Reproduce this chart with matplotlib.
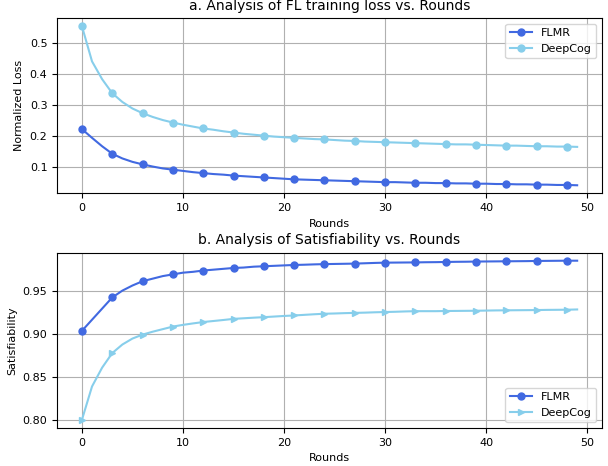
import matplotlib
matplotlib.use('Agg')
import matplotlib.pyplot as plt

rounds = list(range(50))

# normalized loss per round
flmr_loss = [0.223, 0.195, 0.168, 0.144, 0.129, 0.118, 0.110, 0.103, 0.097, 0.093,
             0.089, 0.085, 0.082, 0.079, 0.077, 0.074, 0.072, 0.070, 0.068, 0.066,
             0.064, 0.062, 0.061, 0.060, 0.059, 0.058, 0.057, 0.056, 0.055, 0.054,
             0.053, 0.053, 0.052, 0.051, 0.051, 0.050, 0.050, 0.049, 0.049, 0.048,
             0.048, 0.047, 0.047, 0.046, 0.046, 0.045, 0.045, 0.044, 0.044, 0.043]
deepcog_loss = [0.553, 0.440, 0.383, 0.338, 0.310, 0.289, 0.274, 0.262, 0.252, 0.244,
                0.237, 0.231, 0.225, 0.221, 0.216, 0.212, 0.208, 0.205, 0.202, 0.199,
                0.197, 0.195, 0.193, 0.191, 0.190, 0.188, 0.186, 0.185, 0.183, 0.182,
                0.181, 0.180, 0.179, 0.178, 0.177, 0.176, 0.175, 0.174, 0.174, 0.173,
                0.172, 0.171, 0.170, 0.170, 0.169, 0.168, 0.168, 0.167, 0.167, 0.166]

# satisfiability per round
flmr_sat = [0.904, 0.917, 0.930, 0.943, 0.951, 0.957, 0.962, 0.965, 0.968, 0.970,
            0.972, 0.973, 0.9745, 0.9755, 0.9765, 0.9775, 0.978, 0.979, 0.9795, 0.980,
            0.9805, 0.981, 0.9813, 0.9817, 0.982, 0.9822, 0.9824, 0.9826, 0.983, 0.9834,
            0.9837, 0.9838, 0.9839, 0.984, 0.9842, 0.9843, 0.9845, 0.9847, 0.9848, 0.985,
            0.9851, 0.9852, 0.9853, 0.9854, 0.9855, 0.9857, 0.9858, 0.9859, 0.986, 0.986]
deepcog_sat = [0.800, 0.839, 0.861, 0.878, 0.888, 0.895, 0.8996, 0.903, 0.906, 0.909,
               0.911, 0.9127, 0.9143, 0.9155, 0.9167, 0.918, 0.9187, 0.9194, 0.920, 0.9207,
               0.9214, 0.922, 0.9227, 0.9234, 0.924, 0.9243, 0.9247, 0.925, 0.9253, 0.9257,
               0.926, 0.9263, 0.9267, 0.927, 0.927, 0.927, 0.9272, 0.9273, 0.9274, 0.9275,
               0.9277, 0.9279, 0.928, 0.9281, 0.9282, 0.9283, 0.9285, 0.9286, 0.9287, 0.929]

fig, (ax1, ax2) = plt.subplots(2, 1, figsize=(6.08, 4.66), dpi=100)
fig.subplots_adjust(left=0.094, right=0.99, top=0.961, bottom=0.082, hspace=0.34)

ax1.plot(rounds, flmr_loss, marker='o', markevery=3, markersize=5, color='royalblue', label='FLMR')
ax1.plot(rounds, deepcog_loss, marker='o', markevery=3, markersize=5, color='skyblue', label='DeepCog')
ax1.set_title('a. Analysis of FL training loss vs. Rounds', fontsize=10)
ax1.set_xlabel('Rounds', fontsize=8)
ax1.set_ylabel('Normalized Loss', fontsize=8)
ax1.tick_params(labelsize=8)
ax1.grid(True)
ax1.legend(loc='upper right', fontsize=8)

ax2.plot(rounds, flmr_sat, marker='o', markevery=3, markersize=5, color='royalblue', label='FLMR')
ax2.plot(rounds, deepcog_sat, marker='>', markevery=3, markersize=5, color='skyblue', label='DeepCog')
ax2.set_title('b. Analysis of Satisfiability vs. Rounds', fontsize=10)
ax2.set_xlabel('Rounds', fontsize=8)
ax2.set_ylabel('Satisfiability', fontsize=8)
ax2.tick_params(labelsize=8)
ax2.grid(True)
ax2.legend(loc='lower right', fontsize=8)

plt.savefig('out.png')
